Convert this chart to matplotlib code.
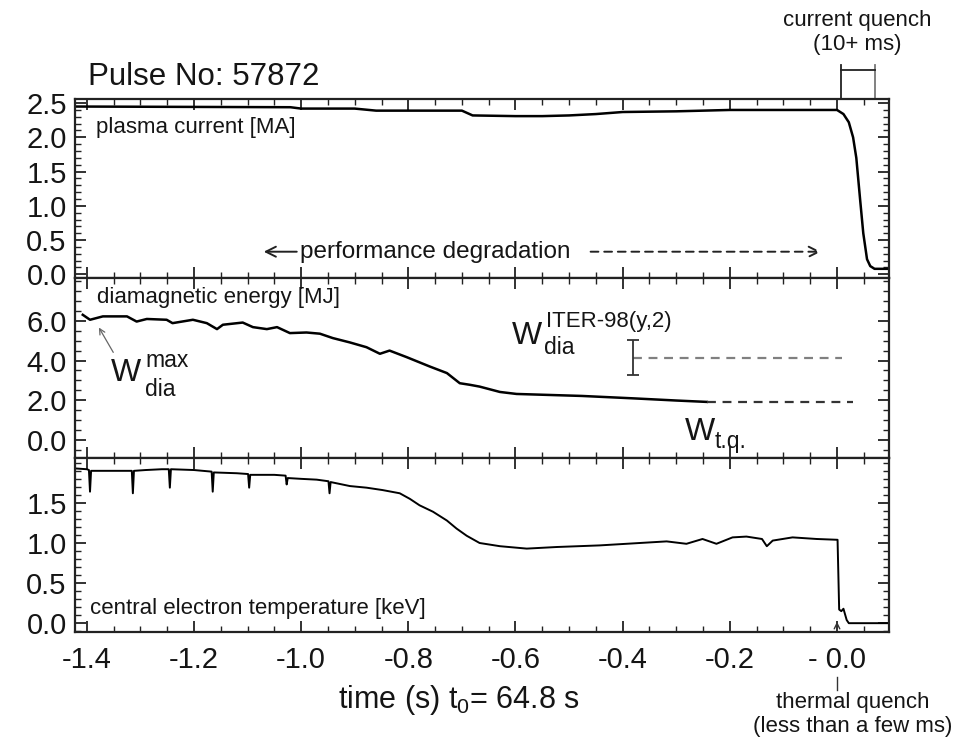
import matplotlib
matplotlib.use("Agg")
import matplotlib.pyplot as plt
from matplotlib.ticker import MultipleLocator, FixedLocator, FixedFormatter

plt.rcParams['font.family'] = ['Liberation Sans', 'DejaVu Sans']

# ---------------- data ----------------
ip_t = [-1.422, -1.02, -1.00, -0.90, -0.86, -0.70, -0.68, -0.60, -0.55, -0.50,
        -0.45, -0.40, -0.30, -0.20, 0.000, 0.012, 0.022, 0.030, 0.036, 0.043,
        0.049, 0.056, 0.062, 0.070, 0.095]
ip_val = [2.45, 2.44, 2.42, 2.42, 2.39, 2.39, 2.32, 2.31, 2.31, 2.32,
          2.34, 2.37, 2.38, 2.40, 2.40, 2.34, 2.22, 2.00, 1.70, 1.10,
          0.60, 0.22, 0.12, 0.08, 0.08]

w_t = [-1.4075, -1.394, -1.370, -1.325, -1.307, -1.288, -1.251, -1.240, -1.202,
       -1.176, -1.157, -1.146, -1.109, -1.090, -1.064, -1.045, -1.021, -0.990,
       -0.965, -0.941, -0.909, -0.878, -0.853, -0.835, -0.803, -0.760, -0.728,
       -0.704, -0.685, -0.667, -0.629, -0.598, -0.476, -0.381, -0.300, -0.243]
w_val = [6.30, 6.05, 6.22, 6.22, 5.96, 6.09, 6.05, 5.88, 6.05,
         5.88, 5.58, 5.80, 5.91, 5.68, 5.58, 5.68, 5.38, 5.41,
         5.35, 5.13, 4.91, 4.67, 4.34, 4.50, 4.17, 3.70, 3.37,
         2.86, 2.78, 2.69, 2.42, 2.32, 2.22, 2.10, 1.99, 1.92]

w_tq = 1.92
w_tq_t = [-0.243, 0.029]
w_iter = 4.12
w_iter_err = [3.26, 5.01]
w_iter_t = [-0.381, 0.010]

te_t = [-1.422, -1.400, -1.396, -1.394, -1.392, -1.385, -1.350, -1.316, -1.314,
        -1.312, -1.290, -1.260, -1.247, -1.245, -1.243, -1.200, -1.167, -1.165,
        -1.163, -1.120, -1.099, -1.097, -1.095, -1.050, -1.029, -1.027, -1.025,
        -1.000, -0.971, -0.949, -0.947, -0.945, -0.909, -0.878, -0.848, -0.816,
        -0.797, -0.779, -0.754, -0.728, -0.710, -0.691, -0.667, -0.629, -0.579,
        -0.523, -0.443, -0.368, -0.318, -0.281, -0.251, -0.225, -0.195, -0.169,
        -0.140, -0.131, -0.120, -0.083, -0.038, 0.001, 0.004, 0.008, 0.012,
        0.018, 0.022, 0.095]
te_val = [1.93, 1.92, 1.91, 1.64, 1.90, 1.90, 1.90, 1.90, 1.62,
          1.90, 1.91, 1.92, 1.92, 1.69, 1.92, 1.91, 1.89, 1.64,
          1.88, 1.87, 1.86, 1.69, 1.85, 1.85, 1.84, 1.73, 1.81,
          1.80, 1.79, 1.77, 1.62, 1.76, 1.71, 1.69, 1.66, 1.62,
          1.55, 1.47, 1.39, 1.28, 1.18, 1.09, 1.00, 0.96, 0.93,
          0.95, 0.97, 1.00, 1.02, 0.99, 1.05, 0.99, 1.07, 1.08,
          1.05, 0.96, 1.03, 1.07, 1.05, 1.04, 0.17, 0.15, 0.18,
          0.04, 0.00, 0.00]

x_ticks = [-1.4, -1.2, -1.0, -0.8, -0.6, -0.4, -0.2, 0.0]
x_ticklabels = ["-1.4", "-1.2", "-1.0", "-0.8", "-0.6", "-0.4", "-0.2", "- 0.0"]
ip_ticks = [0.0, 0.5, 1.0, 1.5, 2.0, 2.5]
w_ticks = [0.0, 2.0, 4.0, 6.0]
te_ticks = [0.0, 0.5, 1.0, 1.5]

# ---------------- figure ----------------
fig = plt.figure(figsize=(9.73, 7.39), dpi=100)
gs = fig.add_gridspec(3, 1, left=75/973, right=889/973, top=1-99/739,
                      bottom=1-632/739, hspace=0, height_ratios=[179, 180, 174])
ax1 = fig.add_subplot(gs[0])
ax2 = fig.add_subplot(gs[1], sharex=ax1)
ax3 = fig.add_subplot(gs[2], sharex=ax1)

TXT = '#151515'
LW = 1.8
for ax in (ax1, ax2, ax3):
    for s in ax.spines.values():
        s.set_linewidth(1.6)
        s.set_color('#222222')
    ax.tick_params(which='both', direction='in', top=True, right=True,
                   colors='#222222', labelcolor=TXT, labelsize=21)
    ax.tick_params(which='major', length=8, width=1.3, pad=6)
    ax.tick_params(which='minor', length=4, width=1.0)
    ax.xaxis.set_minor_locator(MultipleLocator(0.05))

ax1.set_xlim(-1.422, 0.097)
ax1.xaxis.set_major_locator(FixedLocator(x_ticks))
ax1.xaxis.set_major_formatter(FixedFormatter(x_ticklabels))
ax1.tick_params(labelbottom=False)
ax2.tick_params(labelbottom=False)

# --- top: plasma current
ax1.plot(ip_t, ip_val, color='black', lw=LW)
ax1.set_ylim(-0.054, 2.56)
ax1.yaxis.set_major_locator(FixedLocator(ip_ticks))
ax1.yaxis.set_major_formatter(FixedFormatter([f"{v:.1f}" for v in ip_ticks]))
ax1.yaxis.set_minor_locator(MultipleLocator(0.1))
ax1.text(-1.383, 2.15, "plasma current [MA]", fontsize=16, color=TXT, va='center', ha='left')
ax1.text(-1.003, 0.33, "performance degradation", fontsize=17.5, color=TXT, va='center', ha='left')
ax1.annotate("", xy=(-1.075, 0.33), xytext=(-1.003, 0.33),
             arrowprops=dict(arrowstyle='->', lw=1.4, color='#222222', mutation_scale=18))
ax1.annotate("", xy=(-0.025, 0.33), xytext=(-0.465, 0.33),
             arrowprops=dict(arrowstyle='->', lw=1.4, ls=(0, (4, 3)), color='#222222',
                             mutation_scale=18))
# current quench bracket
tr1 = ax1.get_xaxis_transform()
ax1.plot([0.007, 0.007], [1.0, 1.19], transform=tr1, color='#222222', lw=1.3, clip_on=False)
ax1.plot([0.071, 0.071], [1.0, 1.19], transform=tr1, color='#777777', lw=1.3, clip_on=False)
ax1.plot([0.007, 0.071], [1.162, 1.162], transform=tr1, color='#222222', lw=1.3, clip_on=False)
ax1.text(0.037, 1.441, "current quench", transform=tr1, fontsize=16, ha='center', va='center', color=TXT)
ax1.text(0.037, 1.302, "(10+ ms)", transform=tr1, fontsize=16, ha='center', va='center', color=TXT)

# --- middle: diamagnetic energy
ax2.plot(w_t, w_val, color='black', lw=LW)
ax2.plot(w_tq_t, [w_tq, w_tq], color='#333333', lw=1.6, ls=(0, (4, 3)))
ax2.plot(w_iter_t, [w_iter, w_iter], color='#808080', lw=1.6, ls=(0, (4, 3)))
ax2.errorbar([w_iter_t[0]], [w_iter],
             yerr=[[w_iter - w_iter_err[0]], [w_iter_err[1] - w_iter]],
             fmt='none', ecolor='#333333', elinewidth=1.3, capsize=4, capthick=1.3)
ax2.set_ylim(-0.9, 8.15)
ax2.yaxis.set_major_locator(FixedLocator(w_ticks))
ax2.yaxis.set_major_formatter(FixedFormatter([f"{v:.1f}" for v in w_ticks]))
ax2.yaxis.set_minor_locator(MultipleLocator(0.5))
ax2.text(-1.381, 7.16, "diamagnetic energy [MJ]", fontsize=16, color=TXT, va='center', ha='left')
# W_dia^max
ax2.text(-1.355, 3.38, "W", fontsize=23, color=TXT, va='center', ha='left')
ax2.text(-1.290, 3.98, "max", fontsize=16.5, color=TXT, va='center', ha='left')
ax2.text(-1.292, 2.52, "dia", fontsize=16.5, color=TXT, va='center', ha='left')
ax2.annotate("", xy=(-1.380, 5.78), xytext=(-1.348, 4.29),
             arrowprops=dict(arrowstyle='->', lw=0.9, color='#666666', mutation_scale=10))
# W_dia^ITER
ax2.text(-0.607, 5.24, "W", fontsize=23, color=TXT, va='center', ha='left')
ax2.text(-0.547, 4.66, "dia", fontsize=16.5, color=TXT, va='center', ha='left')
ax2.text(-0.544, 5.95, "ITER-98(y,2)", fontsize=16, color=TXT, va='center', ha='left')
# W_t.q.
ax2.text(-0.284, 0.41, "W", fontsize=23, color=TXT, va='center', ha='left')
ax2.text(-0.228, -0.08, "t.q.", fontsize=16.5, color=TXT, va='center', ha='left')

# --- bottom: central electron temperature
ax3.plot(te_t, te_val, color='black', lw=1.4)
ax3.set_ylim(-0.11, 2.06)
ax3.yaxis.set_major_locator(FixedLocator(te_ticks))
ax3.yaxis.set_major_formatter(FixedFormatter([f"{v:.1f}" for v in te_ticks]))
ax3.yaxis.set_minor_locator(MultipleLocator(0.1))
ax3.text(-1.394, 0.18, "central electron temperature [keV]", fontsize=16, color=TXT,
         va='center', ha='left')
ax3.tick_params(axis='x', pad=10)

tr3 = ax3.get_xaxis_transform()
ax3.annotate("", xy=(0.0, 0.075), xycoords=tr3, xytext=(0.0, 0.0), textcoords=tr3,
             arrowprops=dict(arrowstyle='->', lw=1.0, color='#333333', mutation_scale=10))
ax3.plot([0.0, 0.0], [-0.26, -0.335], transform=tr3, color='#333333', lw=1.0, clip_on=False)
ax3.text(0.029, -0.405, "thermal quench", transform=tr3, fontsize=16, ha='center',
         va='center', color=TXT)
ax3.text(0.029, -0.545, "(less than a few ms)", transform=tr3, fontsize=16, ha='center',
         va='center', color=TXT)

fig.text(88/973, 1-77/739, "Pulse No: 57872", fontsize=22.5, color=TXT, ha='left', va='center')
fig.text(338/973, 1-700/739, r"time (s) t$_{\mathregular{0}}$= 64.8 s", fontsize=22, color=TXT,
         ha='left', va='center')

fig.savefig("out.png", dpi=100)
